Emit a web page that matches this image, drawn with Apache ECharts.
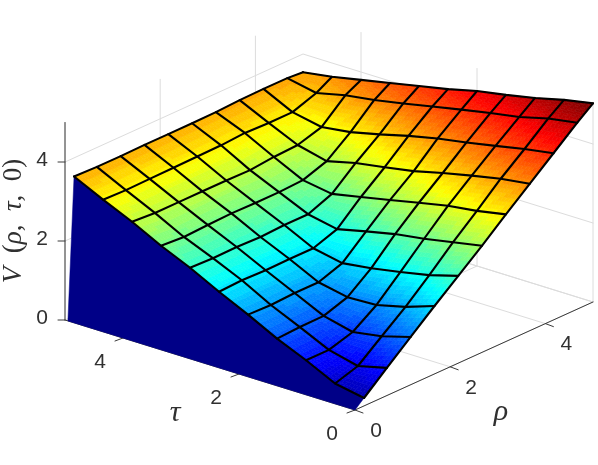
<!DOCTYPE html>
<html>
<head>
<meta charset="utf-8">
<style>
html,body{margin:0;padding:0;background:#fff;}
#chart{width:598px;height:465px;filter:blur(0.6px);}
</style>
<script src="https://cdn.jsdelivr.net/npm/echarts@6/dist/echarts.min.js"></script>
</head>
<body>
<div id="chart"></div>
<script>
// mesh coordinates
var rhoGrid = [0.19, 0.67, 1.17, 1.67, 2.17, 2.67, 3.17, 3.67, 4.17, 4.67, 5];
var tauGrid = [0, 0.5, 1, 1.5, 2, 2.5, 3, 3.5, 4, 4.5, 5];
// V(rho,tau,0), one list per tau
var vTau00 = [0.20, 0.70, 1.21, 1.72, 2.21, 2.70, 3.22, 3.72, 4.22, 4.72, 5.03];
var vTau05 = [0.34, 0.52, 1.00, 1.47, 2.00, 2.56, 3.08, 3.62, 4.10, 4.60, 4.89];
var vTau10 = [0.70, 0.70, 0.88, 1.29, 1.85, 2.42, 2.98, 3.47, 3.95, 4.41, 4.71];
var vTau15 = [1.02, 1.05, 1.06, 1.26, 1.72, 2.31, 2.83, 3.31, 3.81, 4.28, 4.56];
var vTau20 = [1.40, 1.38, 1.41, 1.41, 1.62, 2.15, 2.67, 3.13, 3.68, 4.14, 4.43];
var vTau25 = [1.75, 1.78, 1.76, 1.77, 1.77, 1.98, 2.52, 3.00, 3.52, 3.99, 4.25];
var vTau30 = [2.13, 2.11, 2.12, 2.10, 2.13, 2.13, 2.37, 2.88, 3.33, 3.84, 4.10];
var vTau35 = [2.46, 2.42, 2.45, 2.47, 2.46, 2.46, 2.49, 2.70, 3.16, 3.70, 3.95];
var vTau40 = [2.84, 2.80, 2.80, 2.80, 2.80, 2.79, 2.85, 2.88, 3.06, 3.59, 3.80];
var vTau45 = [3.17, 3.15, 3.16, 3.17, 3.18, 3.19, 3.23, 3.21, 3.21, 3.42, 3.65];
var vTau50 = [3.53, 3.51, 3.51, 3.52, 3.52, 3.52, 3.53, 3.56, 3.57, 3.57, 3.54];
var surface = [vTau00, vTau05, vTau10, vTau15, vTau20, vTau25, vTau30, vTau35, vTau40, vTau45, vTau50];
// the navy skirt from the floor up to the first mesh line
var wallTau = [0, 4.95];
// ticks
var rhoTicks = [0, 2, 4];
var tauTicks = [0, 2, 4];
var zTicks = [0, 2, 4];

// view of the box, px per unit
var ORIGIN = [355, 410], RHO_DIR = [47.6, -21.6], TAU_DIR = [-58, -18], Z_DIR = -39.5;
var RHO_MAX = 5, TAU_MAX = 5, Z_MAX = 5, SUB = 8;
var GRID_COLOR = '#dcdcdc', AXIS_COLOR = '#3a3a3a', TEXT_COLOR = '#303030';

function project(rho, tau, z){
    return [
        ORIGIN[0] + rho * RHO_DIR[0] + tau * TAU_DIR[0],
        ORIGIN[1] + rho * RHO_DIR[1] + tau * TAU_DIR[1] + z * Z_DIR
    ];
}
function clamp(v){ return Math.max(0, Math.min(1, v)); }
// jet, 64 steps like the matlab colormap
function jet(v){
    var idx = Math.min(63, Math.max(0, Math.floor(v / Z_MAX * 64)));
    var t = (idx + 0.5) / 64;
    var r = clamp(1.5 - Math.abs(4 * t - 3));
    var g = clamp(1.5 - Math.abs(4 * t - 2));
    var b = clamp(1.5 - Math.abs(4 * t - 1));
    return 'rgb(' + Math.round(r * 255) + ',' + Math.round(g * 255) + ',' + Math.round(b * 255) + ')';
}
function lineEl(api, points, color, width){
    return {
        type: 'polyline',
        shape: { points: points.map(function(p){ return api.coord(p); }) },
        style: { stroke: color, lineWidth: width, fill: null, lineJoin: 'round', lineCap: 'round' },
        silent: true
    };
}
function textEl(api, p, text, font){
    var c = api.coord(p);
    return {
        type: 'text',
        x: c[0], y: c[1],
        style: { text: text, font: font, fill: TEXT_COLOR, align: 'center', verticalAlign: 'middle' },
        silent: true
    };
}

// back walls and floor
function renderGrid(params, api){
    var ch = [];
    rhoTicks.forEach(function(r){
        ch.push(lineEl(api, [project(r, 0, 0), project(r, TAU_MAX, 0), project(r, TAU_MAX, Z_MAX)], GRID_COLOR, 1));
    });
    tauTicks.forEach(function(t){
        ch.push(lineEl(api, [project(0, t, 0), project(RHO_MAX, t, 0), project(RHO_MAX, t, Z_MAX)], GRID_COLOR, 1));
    });
    zTicks.forEach(function(z){
        ch.push(lineEl(api, [project(0, TAU_MAX, z), project(RHO_MAX, TAU_MAX, z), project(RHO_MAX, 0, z)], GRID_COLOR, 1));
    });
    ch.push(lineEl(api, [project(RHO_MAX, 0, 0), project(RHO_MAX, TAU_MAX, 0)], GRID_COLOR, 1));
    return { type: 'group', children: ch };
}

function renderAxes(params, api){
    var ch = [];
    ch.push(lineEl(api, [project(0, TAU_MAX, 0), project(0, 0, 0), project(RHO_MAX, 0, 0)], AXIS_COLOR, 1));
    ch.push(lineEl(api, [project(0, TAU_MAX, 0), project(0, TAU_MAX, Z_MAX)], AXIS_COLOR, 1));
    rhoTicks.forEach(function(r){
        var p = project(r, 0, 0);
        ch.push(lineEl(api, [p, [p[0] + 8, p[1] + 3]], AXIS_COLOR, 1));
        ch.push(textEl(api, [p[0] + 21, p[1] + 21], String(r), '21px "Liberation Sans"'));
    });
    tauTicks.forEach(function(t){
        var p = project(0, t, 0);
        ch.push(lineEl(api, [p, [p[0] - 8, p[1] + 3]], AXIS_COLOR, 1));
        ch.push(textEl(api, [p[0] - 23, p[1] + 24], String(t), '21px "Liberation Sans"'));
    });
    zTicks.forEach(function(z){
        var p = project(0, TAU_MAX, z);
        ch.push(lineEl(api, [p, [p[0] - 7, p[1]]], AXIS_COLOR, 1));
        ch.push(textEl(api, [p[0] - 23, p[1] - 2], String(z), '21px "Liberation Sans"'));
    });
    ch.push(textEl(api, [175, 413], 'τ', 'italic 30px "Liberation Serif"'));
    ch.push(textEl(api, [501, 412], 'ρ', 'italic 30px "Liberation Serif"'));
    var c = api.coord([14, 221]);
    ch.push({
        type: 'text',
        x: c[0], y: c[1], rotation: Math.PI / 2,
        style: {
            text: '{i|V}{r|  (}{i|ρ}{r|,  }{i|τ}{r|,  0)}',
            align: 'center', verticalAlign: 'middle',
            fill: TEXT_COLOR,
            rich: {
                i: { font: 'italic 27px "Liberation Serif"', fill: TEXT_COLOR },
                r: { font: '27px "Liberation Serif"', fill: TEXT_COLOR }
            }
        },
        silent: true
    });
    return { type: 'group', children: ch };
}

// navy skirt under the front mesh line
function renderWall(params, api){
    var pts = [project(0, wallTau[0], 0), project(0, wallTau[1], 0)];
    for (var j = tauGrid.length - 1; j >= 0; j--) {
        pts.push(project(rhoGrid[0], tauGrid[j], surface[j][0]));
    }
    return {
        type: 'polygon',
        shape: { points: pts.map(function(p){ return api.coord(p); }) },
        style: { fill: jet(0), stroke: jet(0), lineWidth: 0.5 },
        silent: true
    };
}

// one mesh cell, split up so the colour follows the height
function renderCell(params, api){
    var i = api.value(0), j = api.value(1), ch = [];
    var r0 = rhoGrid[i], r1 = rhoGrid[i + 1], t0 = tauGrid[j], t1 = tauGrid[j + 1];
    var v00 = surface[j][i], v10 = surface[j][i + 1], v01 = surface[j + 1][i], v11 = surface[j + 1][i + 1];
    function at(a, b){
        var v = v00 * (1 - a) * (1 - b) + v10 * a * (1 - b) + v01 * (1 - a) * b + v11 * a * b;
        return { v: v, p: api.coord(project(r0 + (r1 - r0) * a, t0 + (t1 - t0) * b, v)) };
    }
    for (var a = 0; a < SUB; a++) {
        for (var b = 0; b < SUB; b++) {
            var col = jet(at((a + 0.5) / SUB, (b + 0.5) / SUB).v);
            ch.push({
                type: 'polygon',
                shape: { points: [at(a / SUB, b / SUB).p, at((a + 1) / SUB, b / SUB).p, at((a + 1) / SUB, (b + 1) / SUB).p, at(a / SUB, (b + 1) / SUB).p] },
                style: { fill: col, stroke: col, lineWidth: 0.6 },
                silent: true
            });
        }
    }
    return { type: 'group', children: ch };
}

function renderMesh(params, api){
    var ch = [];
    rhoGrid.forEach(function(r, i){
        ch.push(lineEl(api, tauGrid.map(function(t, j){ return project(r, t, surface[j][i]); }), '#000', 2.1));
    });
    tauGrid.forEach(function(t, j){
        ch.push(lineEl(api, rhoGrid.map(function(r, i){ return project(r, t, surface[j][i]); }), '#000', 2.1));
    });
    return { type: 'group', children: ch };
}

var cells = [];
for (var j = tauGrid.length - 2; j >= 0; j--) {
    for (var i = rhoGrid.length - 2; i >= 0; i--) {
        cells.push([i, j]);
    }
}

var chart = echarts.init(document.getElementById('chart'));
chart.setOption({
    animation: false,
    backgroundColor: '#fff',
    tooltip: { show: false },
    grid: { left: 0, right: 0, top: 0, bottom: 0 },
    xAxis: { type: 'value', min: 0, max: 598, show: false },
    yAxis: { type: 'value', min: 0, max: 465, inverse: true, show: false },
    series: [
        { type: 'custom', renderItem: renderGrid, data: [[0, 0]], clip: false, silent: true, z: 1 },
        { type: 'custom', renderItem: renderAxes, data: [[0, 0]], clip: false, silent: true, z: 2 },
        { type: 'custom', renderItem: renderWall, data: [[0, 0]], clip: false, silent: true, z: 3 },
        { type: 'custom', renderItem: renderCell, data: cells, clip: false, silent: true, z: 4, progressive: 0 },
        { type: 'custom', renderItem: renderMesh, data: [[0, 0]], clip: false, silent: true, z: 5 }
    ]
});
</script>
</body>
</html>
